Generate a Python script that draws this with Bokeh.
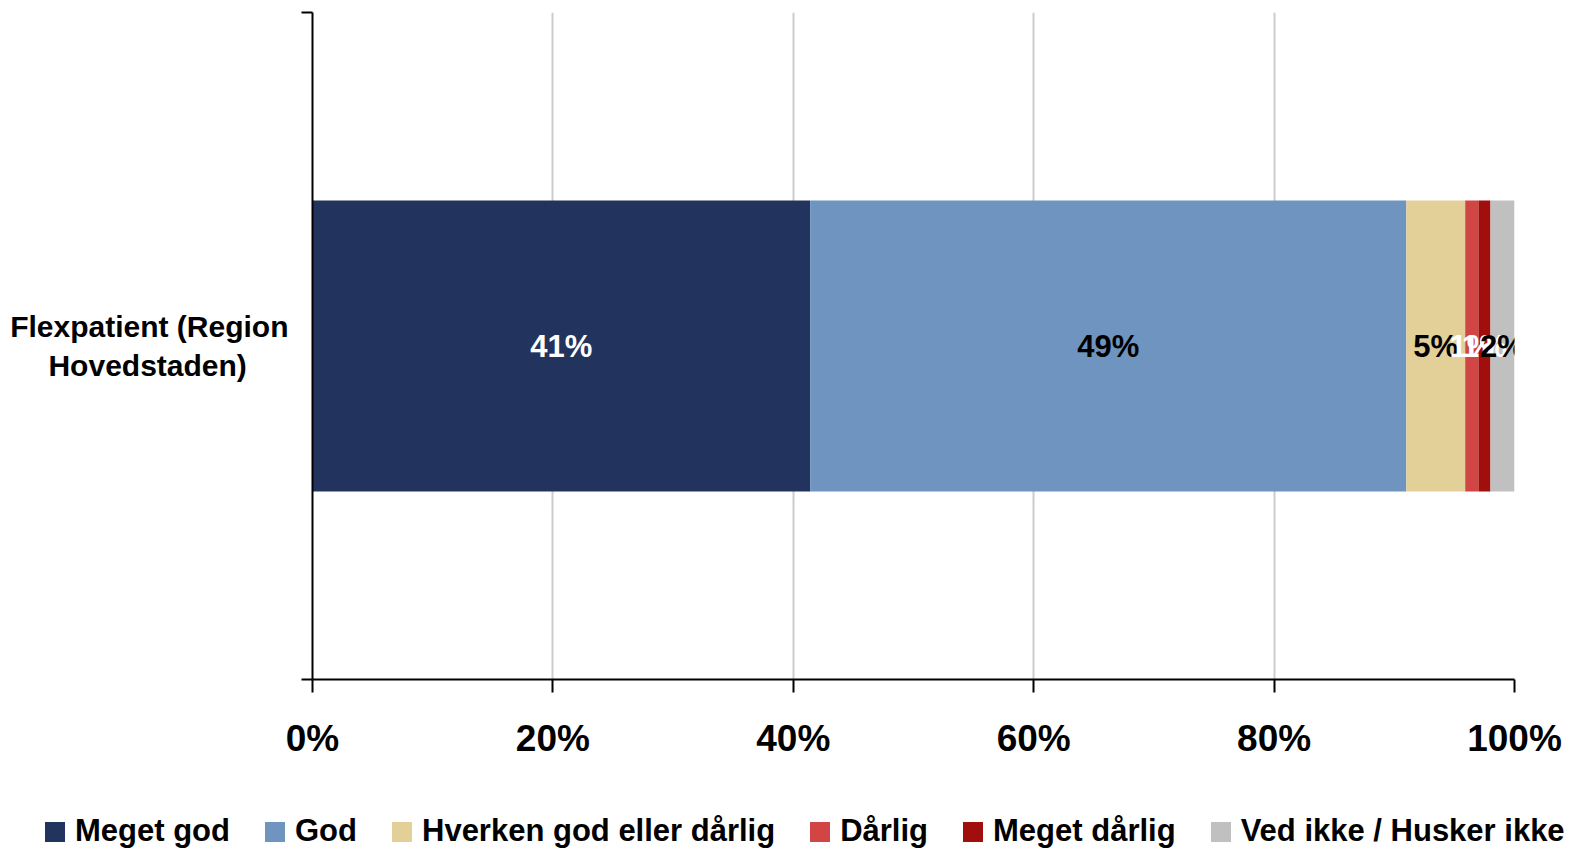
from bokeh.plotting import figure
from bokeh.models import Range1d, FixedTicker, Legend, LegendItem, ColumnDataSource
from bokeh.core.properties import value
from bokeh.embed import file_html
from bokeh.resources import INLINE

# ---- data ----
category = "Flexpatient (Region\nHovedstaden)\u00a0\u00a0\u00a0\u00a0\u00a0"
category_pos = [0.5]
series = ["Meget god", "God", "Hverken god eller dårlig", "Dårlig", "Meget dårlig", "Ved ikke / Husker ikke"]
values = [41.4, 49.6, 4.9, 1.1, 1.0, 2.0]
bar_labels = ["41%", "49%", "5%", "1%", "1%", "2%"]
colors = ["#22345d", "#6e94bf", "#e3d099", "#d14545", "#a00f0b", "#c0c0c0"]
label_colors = ["white", "black", "black", "white", "white", "black"]
x_ticks = [0, 20, 40, 60, 80, 100]
x_tick_labels = ["0%", "20%", "40%", "60%", "80%", "100%"]

FONT = "Liberation Sans"

p = figure(width=1567, height=790, output_backend="svg", toolbar_location=None,
           x_range=Range1d(0, 100), y_range=Range1d(0, 1),
           min_border_left=312, min_border_right=53, min_border_top=12, min_border_bottom=111)
p.outline_line_color = None
p.background_fill_color = "white"

# grid
p.ygrid.grid_line_color = None
p.xgrid.ticker = FixedTicker(ticks=x_ticks)
p.xgrid.grid_line_color = "#cccccc"
p.xgrid.grid_line_width = 2

# x axis
xa = p.xaxis[0]
xa.ticker = FixedTicker(ticks=x_ticks)
xa.major_label_overrides = {t: l for t, l in zip(x_ticks, x_tick_labels)}
xa.major_label_text_font = FONT
xa.major_label_text_font_style = "bold"
xa.major_label_text_font_size = "37px"
xa.major_label_text_color = "black"
xa.major_tick_out = 13
xa.major_tick_in = 0
xa.minor_tick_out = 0
xa.minor_tick_in = 0
xa.major_label_standoff = 25
xa.axis_line_width = 2
xa.axis_line_color = "black"
xa.major_tick_line_width = 2
xa.major_tick_line_color = "black"

# y axis: category label at the band centre, tick marks at the band edges
ya = p.yaxis[0]
ya.ticker = FixedTicker(ticks=category_pos, minor_ticks=[0, 1])
ya.major_label_overrides = {category_pos[0]: category}
ya.major_label_text_font = FONT
ya.major_label_text_font_style = "bold"
ya.major_label_text_font_size = "30px"
ya.major_label_text_color = "black"
ya.major_label_text_line_height = 1.21
ya.major_label_standoff = 13
ya.major_tick_out = 0
ya.major_tick_in = 0
ya.minor_tick_out = 11
ya.minor_tick_in = 0
ya.minor_tick_line_width = 2
ya.minor_tick_line_color = "black"
ya.axis_line_width = 2
ya.axis_line_color = "black"

# stacked bars
left = 0.0
centers = []
sources = []
for name, v, c in zip(series, values, colors):
    src = ColumnDataSource(dict(y=category_pos, left=[left], right=[left + v]))
    sources.append(src)
    p.hbar(y="y", left="left", right="right", height=0.436, source=src,
           fill_color=c, line_color=None)
    centers.append(left + v / 2)
    left += v

lab_src = ColumnDataSource(dict(x=centers, y=category_pos * len(centers), t=bar_labels, c=label_colors))
p.text(x="x", y="y", text="t", text_color="c", source=lab_src,
       text_font=value(FONT), text_font_style="bold", text_font_size="31px",
       text_align="center", text_baseline="middle")

# legend strip (separate root so it can span the full width)
pl = figure(width=1567, height=59, output_backend="svg", toolbar_location=None,
            x_axis_type=None, y_axis_type=None, x_range=Range1d(0, 100), y_range=Range1d(5, 6),
            min_border_left=0, min_border_right=0, min_border_top=0, min_border_bottom=0)
pl.outline_line_color = None
pl.grid.grid_line_color = None
items = []
for name, c, src in zip(series, colors, sources):
    r = pl.hbar(y="y", left="left", right="right", height=0.436, source=src,
                fill_color=c, line_color=None)
    items.append(LegendItem(label=name, renderers=[r]))
legend = Legend(items=items, orientation="horizontal", location=(42, 0),
                spacing=32, label_standoff=8, glyph_width=25, glyph_height=25,
                label_text_font=FONT, label_text_font_style="bold", label_text_font_size="31px",
                label_text_color="black",
                padding=0, margin=0, border_line_color=None, background_fill_alpha=0)
pl.add_layout(legend)

open("out.html", "w").write(file_html([p, pl], INLINE))
